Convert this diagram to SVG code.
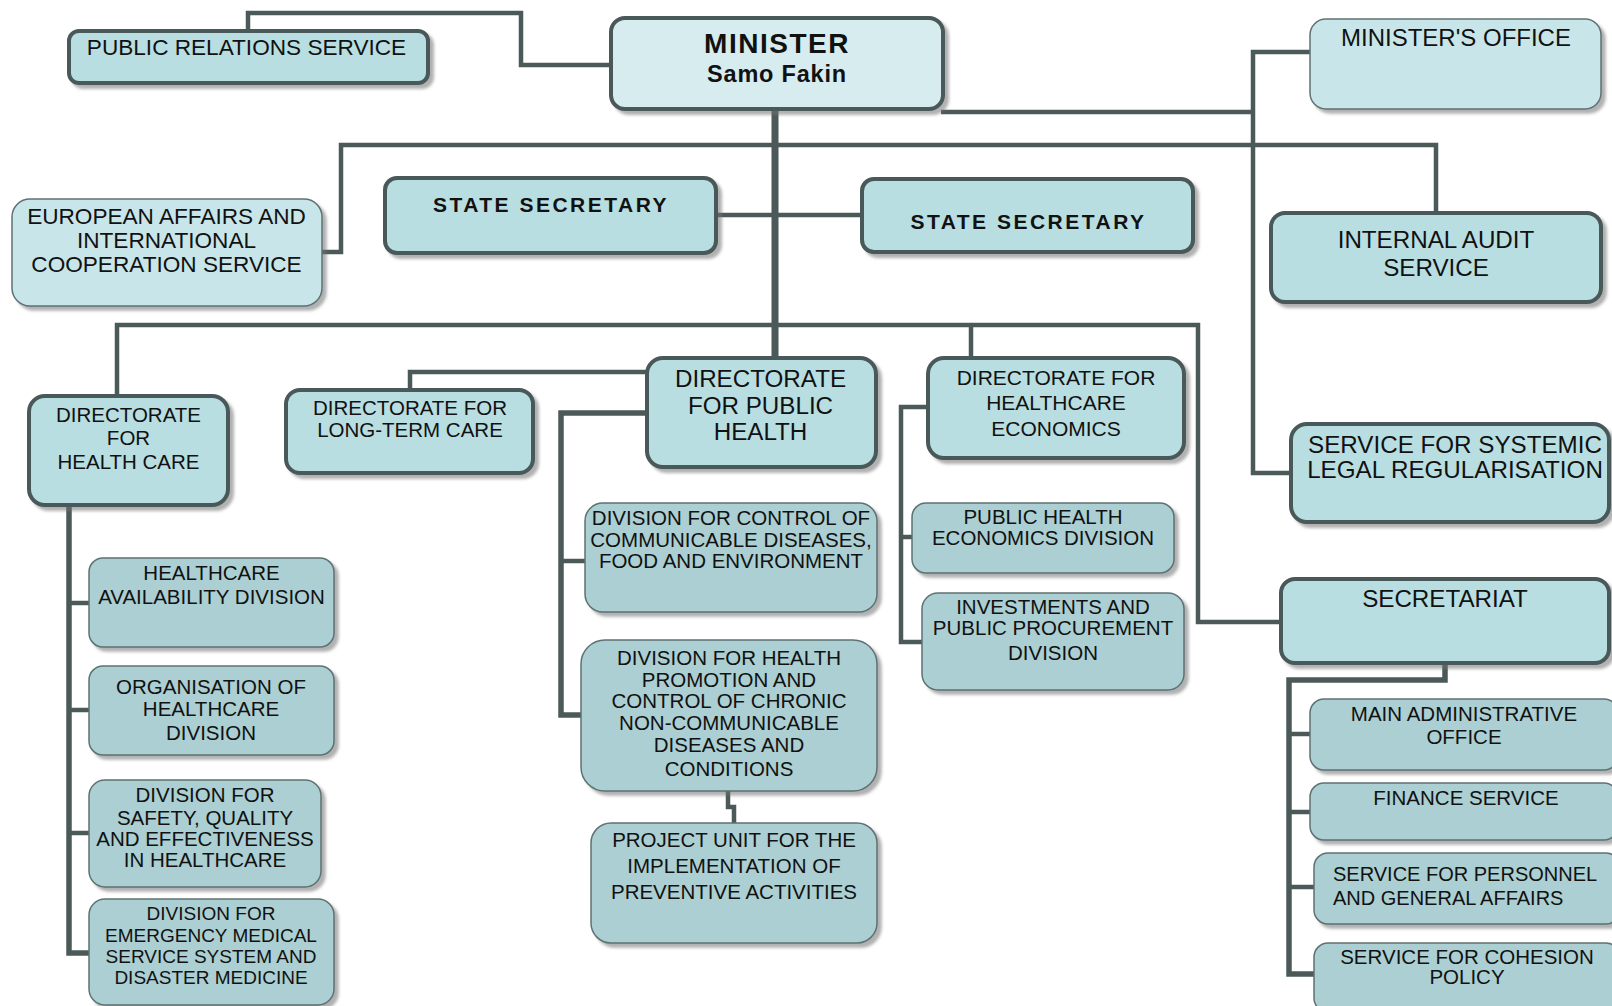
<svg xmlns="http://www.w3.org/2000/svg" width="1612" height="1006" viewBox="0 0 1612 1006">
<defs>
<filter id="sh" x="-5%" y="-5%" width="115%" height="125%">
<feDropShadow dx="4" dy="4" stdDeviation="1.5" flood-color="#6f6f6f" flood-opacity="0.55"/>
</filter>
<style>
.thick{stroke:#4a5858;stroke-width:4;fill:#b8dee2;filter:url(#sh)}
.thin{stroke:#5f7273;stroke-width:1.5;fill:#abcfd2;filter:url(#sh)}
.light{fill:#c8e6e9}
.min{fill:#d6ecee}
.conn{fill:none;stroke:#4b5959;stroke-width:4.5;stroke-linejoin:miter;stroke-linecap:butt}
text{font-family:"Liberation Sans",Arial,sans-serif;fill:#111;text-anchor:middle}
.b{font-weight:bold}
.ss{font-weight:bold;font-size:21px;letter-spacing:2.5px}
.f20{font-size:20.5px}
.f22{font-size:22.6px}
.f24{font-size:24.2px}
</style>
</defs>
<rect width="1612" height="1006" fill="#ffffff"/>

<g id="connectors">
<path class="conn" d="M248,31 V13 H521 V65 H611"/>
<path class="conn" d="M775,109 V358" style="stroke-width:7"/>
<path class="conn" d="M941,112 H1253"/>
<path class="conn" d="M1310,52 H1253 V473 H1291"/>
<path class="conn" d="M322,252 H341 V145 H1436 V213"/>
<path class="conn" d="M716,215 H862"/>
<path class="conn" d="M117,396 V325 H1198 V622 H1281"/>
<path class="conn" d="M971,325 V358"/>
<path class="conn" d="M410,390 V372 H647"/>
<path class="conn" d="M647,413 H561 V715 H581" style="stroke-width:5.5"/>
<path class="conn" d="M561,561 H585"/>
<path class="conn" d="M728,791 V807 H734 V823"/>
<path class="conn" d="M928,407 H901 V642 H922"/>
<path class="conn" d="M901,537 H912"/>
<path class="conn" d="M69,505 V953 H89" style="stroke-width:5.5"/>
<path class="conn" d="M69,603 H89 M69,710 H89 M69,833 H89"/>
<path class="conn" d="M1445,663 V680 H1289 V974 H1314" style="stroke-width:5.5"/>
<path class="conn" d="M1289,734 H1310 M1289,812 H1310 M1289,887 H1314"/>
</g>

<g id="public-relations">
<rect class="thick" x="69" y="31" width="359" height="52" rx="10"/>
<text class="f22" x="246.5" y="55">PUBLIC RELATIONS SERVICE</text>
</g>

<g id="minister">
<rect class="thick min" x="611" y="18" width="332" height="91" rx="14"/>
<text class="b" x="777" y="53" style="font-size:28px;letter-spacing:1.5px">MINISTER</text>
<text class="b" x="777" y="82" style="font-size:23.5px;letter-spacing:0.8px">Samo Fakin</text>
</g>

<g id="ministers-office">
<rect class="thin light" x="1310" y="19" width="291" height="90" rx="16"/>
<text x="1456" y="46" style="font-size:24px">MINISTER'S OFFICE</text>
</g>

<g id="european-affairs">
<rect class="thin light" x="12" y="199" width="310" height="107" rx="18"/>
<text class="f22" x="166.5"><tspan x="166.5" y="224">EUROPEAN AFFAIRS AND</tspan><tspan x="166.5" y="248">INTERNATIONAL</tspan><tspan x="166.5" y="272">COOPERATION SERVICE</tspan></text>
</g>

<g id="state-secretary-1">
<rect class="thick" x="385" y="178" width="331" height="75" rx="12"/>
<text class="ss" x="551" y="212">STATE SECRETARY</text>
</g>

<g id="state-secretary-2">
<rect class="thick" x="862" y="179" width="331" height="73" rx="12"/>
<text class="ss" x="1028.5" y="229">STATE SECRETARY</text>
</g>

<g id="internal-audit">
<rect class="thick" x="1271" y="213" width="330" height="89" rx="14"/>
<text class="f24" x="1436"><tspan x="1436" y="248">INTERNAL AUDIT</tspan><tspan x="1436" y="276">SERVICE</tspan></text>
</g>

<g id="directorate-health-care">
<rect class="thick" x="29" y="396" width="199" height="109" rx="16"/>
<text class="f20" x="128.5"><tspan x="128.5" y="422">DIRECTORATE</tspan><tspan x="128.5" y="445">FOR</tspan><tspan x="128.5" y="469">HEALTH CARE</tspan></text>
</g>

<g id="directorate-long-term-care">
<rect class="thick" x="286" y="390" width="247" height="83" rx="14"/>
<text class="f20" x="410"><tspan x="410" y="415">DIRECTORATE FOR</tspan><tspan x="410" y="437">LONG-TERM CARE</tspan></text>
</g>

<g id="directorate-public-health">
<rect class="thick" x="647" y="358" width="229" height="109" rx="16"/>
<text class="f24" x="760.5"><tspan x="760.5" y="387">DIRECTORATE</tspan><tspan x="760.5" y="414">FOR PUBLIC</tspan><tspan x="760.5" y="440">HEALTH</tspan></text>
</g>

<g id="directorate-healthcare-economics">
<rect class="thick" x="928" y="358" width="256" height="100" rx="16"/>
<text x="1056" style="font-size:21px"><tspan x="1056" y="385">DIRECTORATE FOR</tspan><tspan x="1056" y="410">HEALTHCARE</tspan><tspan x="1056" y="436">ECONOMICS</tspan></text>
</g>

<g id="systemic-legal-regularisation">
<rect class="thick" x="1291" y="424" width="318" height="98" rx="16"/>
<text class="f24" x="1455"><tspan x="1455" y="453">SERVICE FOR SYSTEMIC</tspan><tspan x="1455" y="478">LEGAL REGULARISATION</tspan></text>
</g>

<g id="secretariat">
<rect class="thick" x="1281" y="579" width="328" height="84" rx="14"/>
<text class="f24" x="1445" y="607">SECRETARIAT</text>
</g>

<g id="healthcare-availability">
<rect class="thin" x="89" y="558" width="245" height="89" rx="14"/>
<text class="f20" x="211.5"><tspan x="211.5" y="580">HEALTHCARE</tspan><tspan x="211.5" y="604">AVAILABILITY DIVISION</tspan></text>
</g>

<g id="organisation-healthcare">
<rect class="thin" x="89" y="666" width="245" height="89" rx="14"/>
<text class="f20" x="211"><tspan x="211" y="694">ORGANISATION OF</tspan><tspan x="211" y="716">HEALTHCARE</tspan><tspan x="211" y="740">DIVISION</tspan></text>
</g>

<g id="safety-quality">
<rect class="thin" x="89" y="780" width="232" height="107" rx="16"/>
<text class="f20" x="205"><tspan x="205" y="802">DIVISION FOR</tspan><tspan x="205" y="825">SAFETY, QUALITY</tspan><tspan x="205" y="846">AND EFFECTIVENESS</tspan><tspan x="205" y="867">IN HEALTHCARE</tspan></text>
</g>

<g id="emergency-medical">
<rect class="thin" x="89" y="899" width="245" height="106" rx="16"/>
<text x="211" style="font-size:19px"><tspan x="211" y="920">DIVISION FOR</tspan><tspan x="211" y="942">EMERGENCY MEDICAL</tspan><tspan x="211" y="963">SERVICE SYSTEM AND</tspan><tspan x="211" y="984">DISASTER MEDICINE</tspan></text>
</g>

<g id="communicable-diseases">
<rect class="thin" x="585" y="503" width="292" height="109" rx="18"/>
<text class="f20" x="731"><tspan x="731" y="525">DIVISION FOR CONTROL OF</tspan><tspan x="731" y="547">COMMUNICABLE DISEASES,</tspan><tspan x="731" y="568">FOOD AND ENVIRONMENT</tspan></text>
</g>

<g id="health-promotion">
<rect class="thin" x="581" y="640" width="296" height="151" rx="24"/>
<text class="f20" x="729"><tspan x="729" y="665">DIVISION FOR HEALTH</tspan><tspan x="729" y="687">PROMOTION AND</tspan><tspan x="729" y="708">CONTROL OF CHRONIC</tspan><tspan x="729" y="730">NON-COMMUNICABLE</tspan><tspan x="729" y="752">DISEASES AND</tspan><tspan x="729" y="776">CONDITIONS</tspan></text>
</g>

<g id="project-unit">
<rect class="thin" x="591" y="823" width="286" height="120" rx="20"/>
<text class="f20" x="734"><tspan x="734" y="847">PROJECT UNIT FOR THE</tspan><tspan x="734" y="873">IMPLEMENTATION OF</tspan><tspan x="734" y="899">PREVENTIVE ACTIVITIES</tspan></text>
</g>

<g id="public-health-economics">
<rect class="thin" x="912" y="503" width="262" height="70" rx="14"/>
<text class="f20" x="1043"><tspan x="1043" y="524">PUBLIC HEALTH</tspan><tspan x="1043" y="545">ECONOMICS DIVISION</tspan></text>
</g>

<g id="investments-procurement">
<rect class="thin" x="922" y="593" width="262" height="97" rx="16"/>
<text class="f20" x="1053"><tspan x="1053" y="614">INVESTMENTS AND</tspan><tspan x="1053" y="635">PUBLIC PROCUREMENT</tspan><tspan x="1053" y="660">DIVISION</tspan></text>
</g>

<g id="main-administrative-office">
<rect class="thin" x="1310" y="699" width="308" height="71" rx="14"/>
<text class="f20" x="1464"><tspan x="1464" y="721">MAIN ADMINISTRATIVE</tspan><tspan x="1464" y="744">OFFICE</tspan></text>
</g>

<g id="finance-service">
<rect class="thin" x="1310" y="783" width="308" height="57" rx="14"/>
<text class="f20" x="1466" y="805">FINANCE SERVICE</text>
</g>

<g id="personnel-general-affairs">
<rect class="thin" x="1314" y="853" width="306" height="71" rx="14"/>
<text style="font-size:20px;text-anchor:start"><tspan x="1333" y="881">SERVICE FOR PERSONNEL</tspan><tspan x="1333" y="905">AND GENERAL AFFAIRS</tspan></text>
</g>

<g id="cohesion-policy">
<rect class="thin" x="1314" y="943" width="306" height="69" rx="14"/>
<text class="f20" x="1467"><tspan x="1467" y="964">SERVICE FOR COHESION</tspan><tspan x="1467" y="984">POLICY</tspan></text>
</g>
</svg>
